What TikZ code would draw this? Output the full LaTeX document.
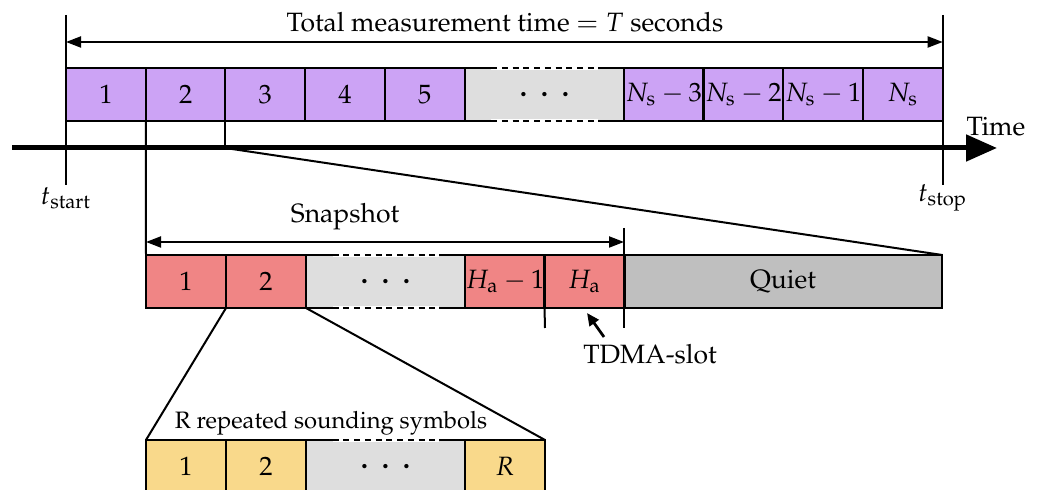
\documentclass[tikz,border=0pt]{standalone}
\usepackage[T1]{fontenc}
\usepackage{mathpazo}
\usetikzlibrary{arrows.meta}
\definecolor{cpurple}{HTML}{CCA3F5}
\definecolor{cred}{HTML}{F08585}
\definecolor{cyellow}{HTML}{F9D98B}
\definecolor{clight}{HTML}{DEDEDE}
\definecolor{cquiet}{HTML}{BFBFBF}
\newcommand{\figfont}{\fontsize{10.6}{12.5}\selectfont}
\newcommand{\smallfigfont}{\fontsize{9.5}{11.5}\selectfont}
\newcommand{\spdots}{{\boldmath$\cdot$\hspace{4.6pt}$\cdot$\hspace{4.6pt}$\cdot$}}
\tikzset{
  slot/.style={draw, line width=0.9pt, minimum height=21.2pt, inner sep=0pt, outer sep=0pt, font=\figfont},
  w1/.style={minimum width=32pt},
  w2/.style={minimum width=63.6pt},
  pslot/.style={slot, w1, fill=cpurple},
  rslot/.style={slot, w1, fill=cred},
  yslot/.style={slot, w1, fill=cyellow},
  gslot/.style={slot, w2, fill=clight},
  thinline/.style={line width=0.8pt},
  dimarrow/.style={thinline, {Triangle[length=6pt,width=4.4pt]}-{Triangle[length=6pt,width=4.4pt]}},
  gapdash/.style={line width=0.9pt, dash pattern=on 2.4pt off 1.9pt},
  lbl/.style={font=\figfont, inner sep=0pt}
}
\begin{document}
\begin{tikzpicture}[x=0.4pt, y=-0.4pt]
\useasboundingbox (0,0) rectangle (1038,490);
\begin{scope}
\clip (0,0) rectangle (1038,490);
% ---------- top row ----------
\node[gslot] (g1) at (544.5,94.5) {\spdots};
\draw[white, line width=1.3pt] (491,68) -- (598,68) (491,121) -- (598,121);
\draw[gapdash] (491,68) -- (598,68) (491,121) -- (598,121);
\node[pslot] (p1) at (106,94.5) {1};
\node[pslot] (p2) at (185.8,94.5) {2};
\node[pslot] (p3) at (265.3,94.5) {3};
\node[pslot] (p4) at (345,94.5) {4};
\node[pslot] (p5) at (424.7,94.5) {5};
\node[pslot] (p6) at (663.8,94.5) {$N_\mathrm{s}-3$};
\node[pslot] (p7) at (743.5,94.5) {$N_\mathrm{s}-2$};
\node[pslot] (p8) at (823.2,94.5) {$N_\mathrm{s}-1$};
\node[pslot] (p9) at (902.8,94.5) {$N_\mathrm{s}$};
% time axis
\coordinate (ax0) at (12,148);
\coordinate (ax1) at (997,148);
\draw[line width=2pt, -{Triangle[length=12.4pt,width=10.4pt]}] (ax0) -- (ax1);
\node[lbl] (time) at (996,127) {Time};
% start/stop verticals
\coordinate (s0) at (66,15);
\coordinate (s1) at (66,185);
\coordinate (e0) at (942.7,15);
\coordinate (e1) at (942.7,185);
\draw[thinline] (s0) -- (s1);
\draw[thinline] (e0) -- (e1);
\coordinate (ta) at (66,42);
\coordinate (tb) at (942.7,42);
\draw[dimarrow] (ta) -- (tb);
\node[lbl] (total) at (505,22) {Total measurement time $=T$ seconds};
\node[lbl] (tstart) at (66,198) {$t_\mathrm{start}$};
\node[lbl] (tstop) at (942.7,198) {$t_\mathrm{stop}$};
% ---------- snapshot row ----------
\node[slot, minimum width=127.4pt, fill=cquiet] (quiet) at (783,281.5) {Quiet};
\node[gslot] (g2) at (385.5,281.5) {\spdots};
\draw[white, line width=1.3pt] (332.5,255) -- (438.5,255) (332.5,308) -- (438.5,308);
\draw[gapdash] (332.5,255) -- (438.5,255) (332.5,308) -- (438.5,308);
\node[rslot] (r1) at (186,281.5) {1};
\node[rslot] (r2) at (266,281.5) {2};
\node[rslot] (r3) at (505,281.5) {$H_\mathrm{a}-1$};
\node[rslot] (r4) at (584.5,281.5) {$H_\mathrm{a}$};
% zoom lines
\draw[thinline] (p2.south west) -- (r1.north west);
\draw[thinline] (p3.south west) -- (p3.south west |- ax0);
\draw[thinline] (p3.south west |- ax0) -- (quiet.north east);
% snapshot dimension
\coordinate (sa) at (146,242);
\coordinate (sb) at (624,242);
\coordinate (sv0) at (624,228);
\coordinate (sv1) at (624,328);
\draw[thinline] (sv0) -- (sv1);
\draw[dimarrow] (sa) -- (sb);
\node[lbl] (snap) at (345,217) {Snapshot};
\coordinate (hv1) at (545,328);
\draw[thinline] (r4.south west) -- (hv1);
\node[lbl] (tdma) at (650,354) {TDMA-slot};
\coordinate (tdmatail) at (604,337);
\draw[line width=1.1pt, -{Triangle[length=5pt,width=4.4pt]}] (tdmatail) -- (587,313);
% ---------- sounding symbols row ----------
\node[gslot] (g3) at (385.5,466.5) {\spdots};
\draw[white, line width=1.3pt] (332.5,440) -- (438.5,440);
\draw[gapdash] (332.5,440) -- (438.5,440);
\node[yslot] (y1) at (186,466.5) {1};
\node[yslot] (y2) at (266,466.5) {2};
\node[yslot] (y3) at (505,466.5) {$R$};
\draw[thinline] (r2.south west) -- (y1.north west);
\draw[thinline] (r2.south east) -- (y3.north east);
\node[lbl, font=\smallfigfont] (rrep) at (331,423) {R repeated sounding symbols};
\end{scope}
\end{tikzpicture}
\end{document}
